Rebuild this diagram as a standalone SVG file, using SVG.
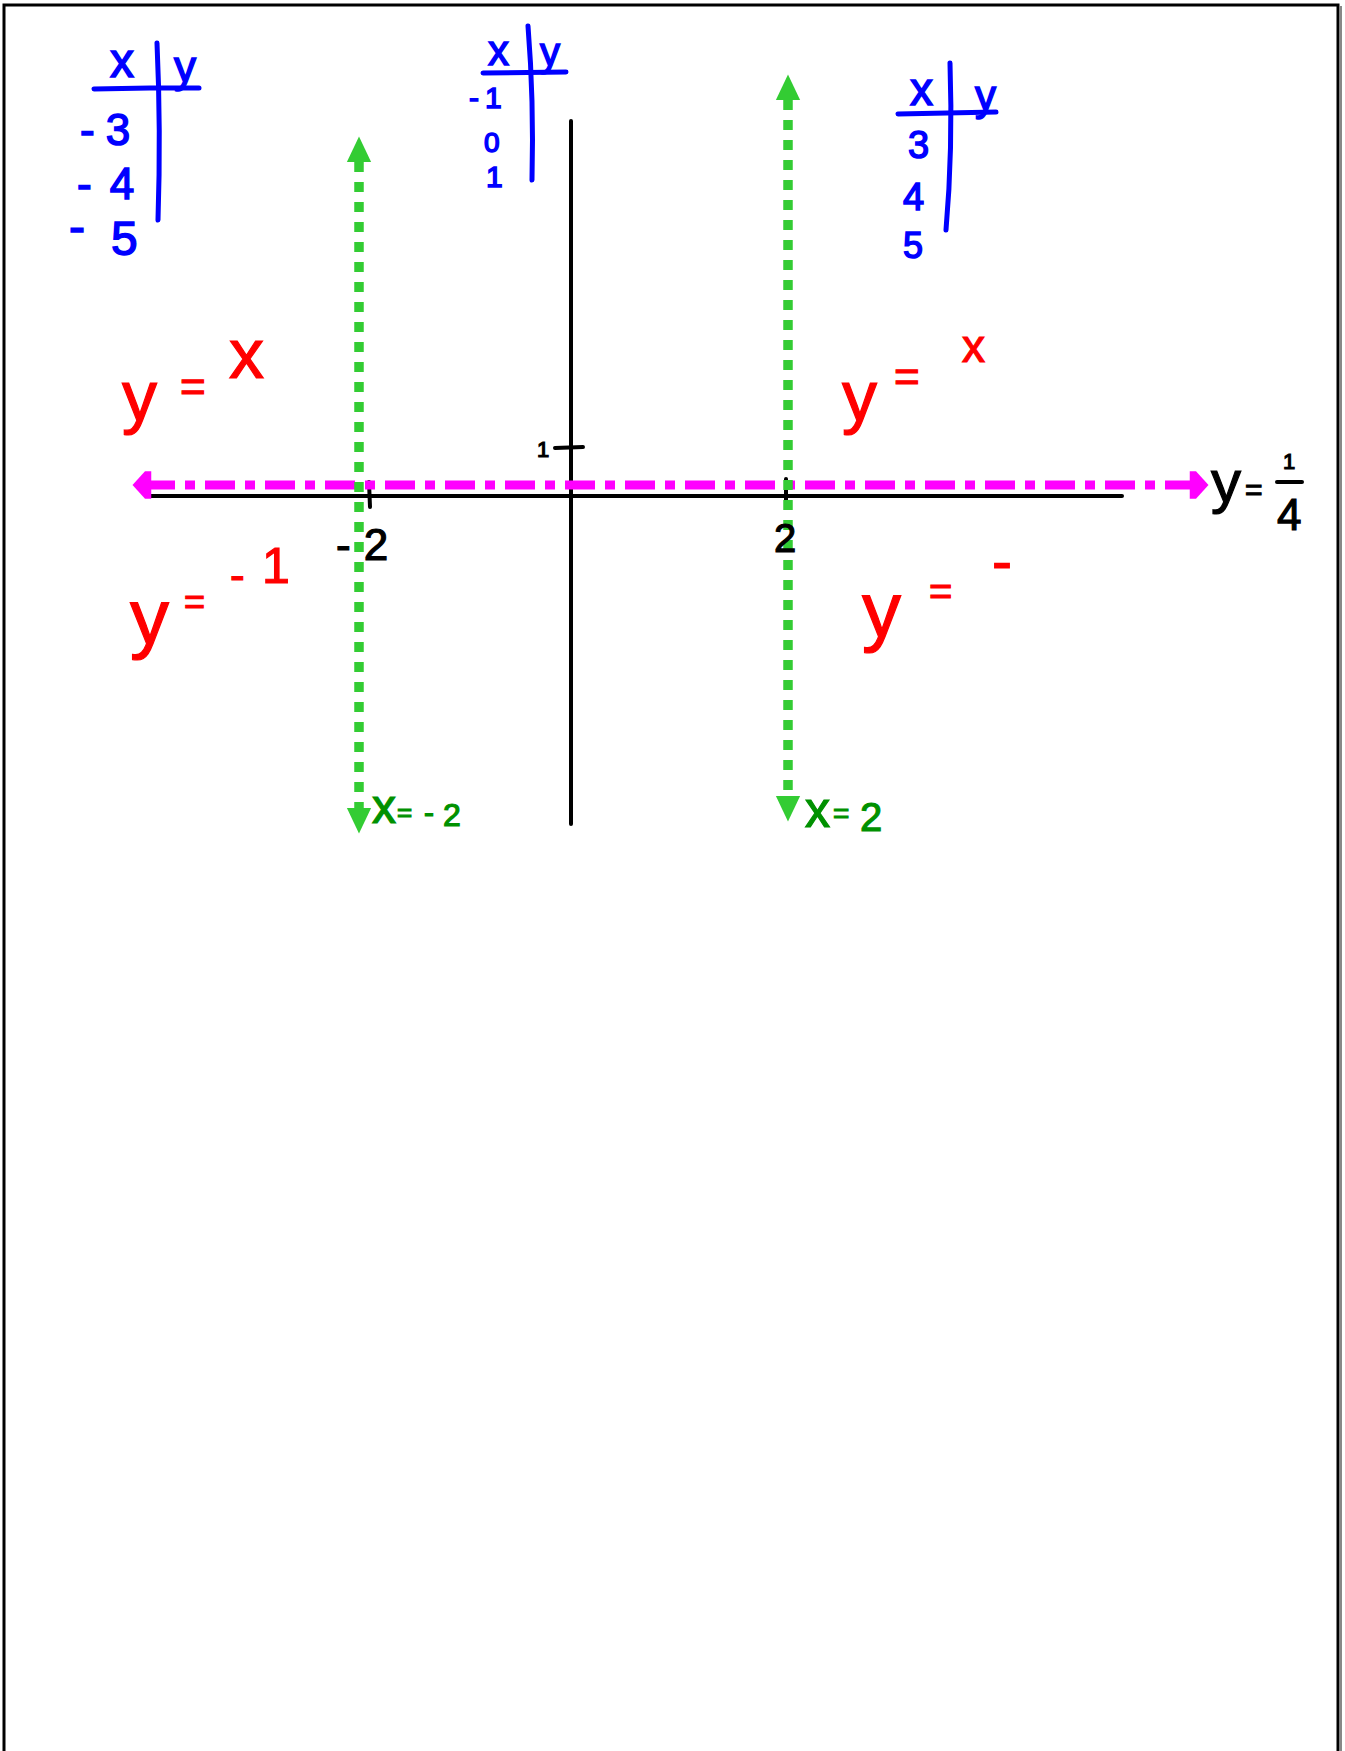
<svg xmlns="http://www.w3.org/2000/svg" width="1345" height="1751" viewBox="0 0 1345 1751">
<style>
  text { font-family: "Liberation Sans", "DejaVu Sans", sans-serif; }
  .blue { fill: #0000FF; stroke: #0000FF; stroke-width: 1.5; }
  .red { fill: #FF0000; stroke: #FF0000; stroke-width: 1.2; }
  .blk { fill: #000; stroke: #000; stroke-width: 1.2; }
  .dg { fill: #009100; stroke: #009100; stroke-width: 1.2; }
  .bl { fill: none; stroke: #0000FF; stroke-width: 5; stroke-linecap: round; }
  .axis { fill: none; stroke: #000; stroke-width: 4; stroke-linecap: round; }
  .green { fill: none; stroke: #33CC33; stroke-width: 9.5; stroke-dasharray: 10 10; }
  .mag { fill: none; stroke: #FF00FF; stroke-width: 9; stroke-dasharray: 30 10 10 10; }
</style>
<defs>
  <marker id="garrow" markerUnits="userSpaceOnUse" markerWidth="30" markerHeight="30" viewBox="-2 -12 26 24" refX="0" refY="0" orient="auto-start-reverse">
    <path d="M0,-10.5 L22,0 L0,10.5 z" fill="#33CC33"/>
  </marker>
  <marker id="marrow" markerUnits="userSpaceOnUse" markerWidth="30" markerHeight="30" viewBox="-6 -12 18 24" refX="0" refY="0" orient="auto-start-reverse">
    <path d="M-5,-11 L0,-11 L10,0 L0,11 L-5,11 z" fill="#FF00FF"/>
  </marker>
</defs>
<rect x="0" y="0" width="1345" height="1751" fill="#fff"/>
<g id="frame">
  <path d="M4,1751 V5 H1338 V1751" fill="none" stroke="#000" stroke-width="3"/>
  <line x1="1341" y1="6" x2="1341" y2="1751" stroke="#888" stroke-width="2"/>
</g>

<g id="connectors">
  <line class="axis" x1="149" y1="496" x2="1122" y2="496"/>
  <line class="axis" x1="571" y1="121" x2="571" y2="824"/>
  <line class="axis" x1="555" y1="448" x2="583" y2="447"/>
  <line class="axis" x1="369" y1="482" x2="370" y2="507"/>
  <line class="axis" x1="786" y1="479" x2="786" y2="500"/>
  <path class="mag" d="M145,485 H1196" marker-start="url(#marrow)" marker-end="url(#marrow)"/>
  <path class="green" d="M359,162 V808" marker-start="url(#garrow)" marker-end="url(#garrow)"/>
  <path class="green" d="M788,100 V796" marker-start="url(#garrow)" marker-end="url(#garrow)"/>
</g>

<g id="table-left">
  <path class="bl" d="M94,89 L150,88 L199,88"/>
  <path class="bl" d="M157,43 Q161,130 158,220"/>
  <text class="blue" x="110" y="77" font-size="48">x</text>
  <text class="blue" x="174" y="82" font-size="44">y</text>
  <text class="blue" x="80" y="145" font-size="44">-<tspan dx="11">3</tspan></text>
  <text class="blue" x="77" y="199" font-size="44">-<tspan dx="18">4</tspan></text>
  <text class="blue" x="69" y="243" font-size="48">-<tspan dx="26" dy="12">5</tspan></text>
</g>

<g id="table-middle">
  <path class="bl" d="M483,73 L566,72"/>
  <path class="bl" d="M528,26 Q534,100 532,180"/>
  <text class="blue" x="488" y="65" font-size="42">x</text>
  <text class="blue" x="540" y="66" font-size="40">y</text>
  <text class="blue" x="469" y="108" font-size="30">-<tspan dx="6">1</tspan></text>
  <text class="blue" x="484" y="152" font-size="28">0</text>
  <text class="blue" x="486" y="187" font-size="30">1</text>
</g>

<g id="table-right">
  <path class="bl" d="M898,114 L996,112"/>
  <path class="bl" d="M950,63 Q953,150 946,230"/>
  <text class="blue" x="910" y="105" font-size="46">x</text>
  <text class="blue" x="975" y="110" font-size="42">y</text>
  <text class="blue" x="908" y="158" font-size="38">3</text>
  <text class="blue" x="903" y="210" font-size="38">4</text>
  <text class="blue" x="903" y="258" font-size="36">5</text>
</g>

<g id="label-y-eq-x-left">
  <text class="red" font-size="70"><tspan x="122" y="420">y</tspan> <tspan x="180" y="402" font-size="44">=</tspan> <tspan x="229" y="378">x</tspan></text>
</g>
<g id="label-y-eq-x-right">
  <text class="red" font-size="70"><tspan x="842" y="420">y</tspan> <tspan x="894" y="392" font-size="44">=</tspan> <tspan x="962" y="362" font-size="46">x</tspan></text>
</g>
<g id="label-y-eq-neg1">
  <text class="red" font-size="78"><tspan x="130" y="644">y</tspan> <tspan x="184" y="614" font-size="36">=</tspan> <tspan x="230" y="590" font-size="44">-</tspan><tspan x="262" y="583" font-size="50">1</tspan></text>
</g>
<g id="label-y-eq-neg">
  <text class="red" font-size="78"><tspan x="862" y="637">y</tspan> <tspan x="929" y="605" font-size="40">=</tspan> <tspan x="992" y="581" font-size="60">-</tspan></text>
</g>

<g id="label-y-eq-quarter">
  <text class="blk" x="1211" y="502" font-size="60">y</text>
  <text class="blk" x="1245" y="500" font-size="30">=</text>
  <text class="blk" x="1283" y="469" font-size="22">1</text>
  <line class="axis" x1="1277" y1="482" x2="1302" y2="482"/>
  <text class="blk" x="1277" y="530" font-size="44">4</text>
</g>

<g id="tick-labels">
  <text class="blk" x="537" y="457" font-size="22">1</text>
  <text class="blk" x="336" y="560" font-size="44">-<tspan dx="13">2</tspan></text>
  <text class="blk" x="774" y="552" font-size="40">2</text>
</g>

<g id="label-x-eq-neg2">
  <text class="dg" font-size="48"><tspan x="372" y="823">x</tspan> <tspan x="397" y="821" font-size="26">=</tspan> <tspan x="424" y="823" font-size="30">-</tspan><tspan x="443" y="826" font-size="32">2</tspan></text>
</g>
<g id="label-x-eq-2">
  <text class="dg" font-size="50"><tspan x="805" y="827">x</tspan> <tspan x="833" y="823" font-size="28">=</tspan> <tspan x="860" y="831" font-size="40">2</tspan></text>
</g>
</svg>
